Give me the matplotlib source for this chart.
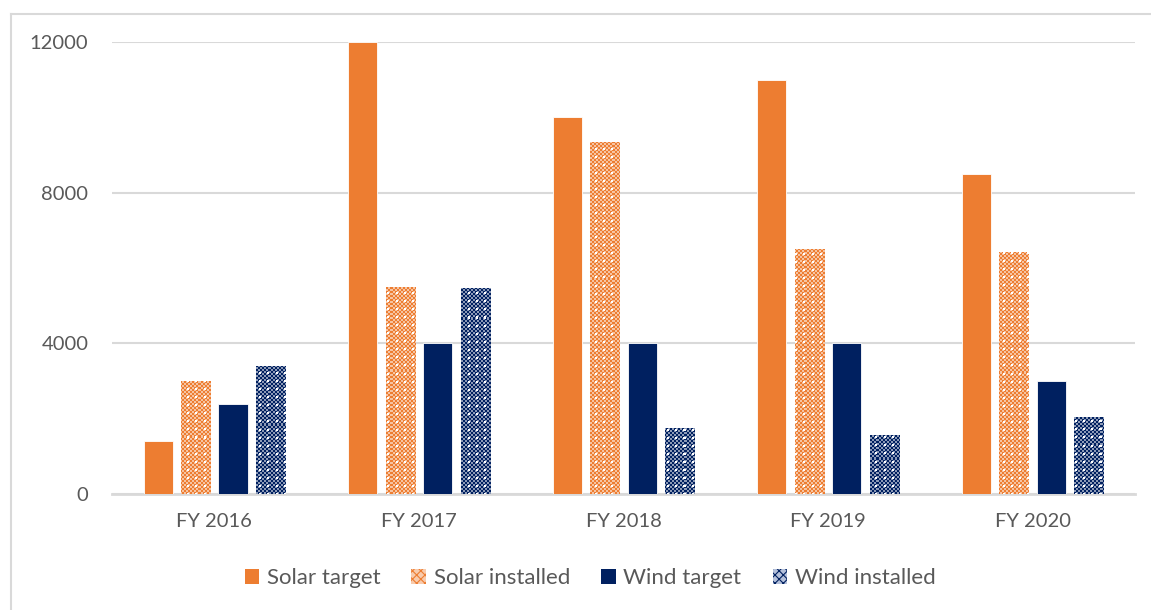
import numpy as np
import matplotlib
matplotlib.use("Agg")
import matplotlib.pyplot as plt
from matplotlib.patches import Patch
from matplotlib.lines import Line2D

years = ["FY 2016", "FY 2017", "FY 2018", "FY 2019", "FY 2020"]
solar_target = [1400, 12000, 10000, 11000, 8500]
solar_installed = [3000, 5500, 9350, 6500, 6425]
wind_target = [2400, 4000, 4000, 4000, 3000]
wind_installed = [3400, 5480, 1750, 1570, 2050]
yticks = [0, 4000, 8000, 12000]

ORANGE = "#ED7D31"
NAVY = "#002060"
GRID = "#D9D9D9"
TEXT = "#595959"

plt.rcParams["font.family"] = ["Lato", "DejaVu Sans"]
plt.rcParams["hatch.linewidth"] = 0.8

W, H = 1151, 610
fig = plt.figure(figsize=(W / 100, H / 100), dpi=100)
ax = fig.add_axes([112 / W, 1 - 494 / H, (1135 - 112) / W, (494 - 42) / H])

x = np.arange(len(years))
step = 0.183
width = 0.142
series = [
    ("Solar target", solar_target, ORANGE, False),
    ("Solar installed", solar_installed, ORANGE, True),
    ("Wind target", wind_target, NAVY, False),
    ("Wind installed", wind_installed, NAVY, True),
]

ax.set_xlim(-0.5, len(years) - 0.5)
ax.set_ylim(0, 12000)


def texture(color, h, w):
    """Checkered dotted fill pattern in the given colour."""
    rgb = np.array(matplotlib.colors.to_rgb(color))
    yy, xx = np.mgrid[0:h, 0:w]
    checker = ((xx // 2) + (yy // 2)) % 2 == 0
    img = np.ones((h, w, 4))
    light = 1 - 0.45 * (1 - rgb)
    img[..., :3] = np.where(checker[..., None], rgb, light)
    dots = ((xx % 8) >= 3) & ((xx % 8) <= 4) & ((yy % 8) >= 3) & ((yy % 8) <= 4)
    img[dots, :3] = 1.0
    return img


fig.canvas.draw()
bb = ax.get_window_extent()
pw, ph = int(round(bb.width)), int(round(bb.height))

for i, (name, vals, color, patterned) in enumerate(series):
    offs = (i - 1.5) * step
    if patterned:
        bars = ax.bar(x + offs, vals, width, color="none", edgecolor="none", zorder=3)
        tex = texture(color, ph, pw)
        for b in bars:
            im = ax.imshow(tex, extent=(-0.5, len(years) - 0.5, 0, 12000),
                           aspect="auto", interpolation="nearest", zorder=3)
            im.set_clip_path(b)
    else:
        ax.bar(x + offs, vals, width, color=color, edgecolor="white",
               linewidth=0.6, zorder=3)

ax.set_xlim(-0.5, len(years) - 0.5)
ax.set_ylim(0, 12000)
ax.set_yticks(yticks)
ax.set_yticklabels([str(v) for v in yticks])
ax.set_xticks(x)
ax.set_xticklabels(years)
ax.yaxis.grid(True, color=GRID, linewidth=1.5)
ax.set_axisbelow(True)
for s in ["top", "right", "left"]:
    ax.spines[s].set_visible(False)
ax.spines["bottom"].set_color(GRID)
ax.spines["bottom"].set_linewidth(2)
ax.tick_params(axis="y", length=0, pad=17, labelsize=14.5, labelcolor=TEXT)
ax.tick_params(axis="x", length=0, pad=14, labelsize=14.5, labelcolor=TEXT)

handles = [
    Patch(facecolor=ORANGE, edgecolor="none"),
    Patch(facecolor="#F8CBAD", edgecolor=ORANGE, hatch="xxxx", linewidth=0),
    Patch(facecolor=NAVY, edgecolor="none"),
    Patch(facecolor="#B4C0DA", edgecolor=NAVY, hatch="xxxx", linewidth=0),
]
leg = fig.legend(handles, [s[0] for s in series], loc="center",
                 bbox_to_anchor=(590 / W, 1 - 578 / H), ncol=4, frameon=False,
                 fontsize=16, handlelength=0.65, handleheight=0.65,
                 handletextpad=0.35, columnspacing=1.4, labelcolor=TEXT)

# outer chart frame (left and top edges)
fig.add_artist(Line2D([10.5 / W, 10.5 / W], [0, 1 - 13.5 / H],
                      transform=fig.transFigure, color=GRID, linewidth=1.5))
fig.add_artist(Line2D([10.5 / W, 1], [1 - 13.5 / H, 1 - 13.5 / H],
                      transform=fig.transFigure, color=GRID, linewidth=1.5))

fig.savefig("out.png", dpi=100)
